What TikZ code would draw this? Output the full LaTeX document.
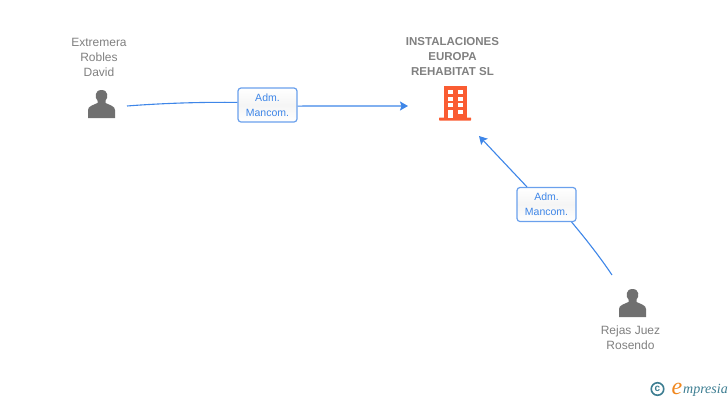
\documentclass[tikz,border=0pt]{standalone}
\usepackage{fontspec}
\setmainfont{Liberation Sans}
\newfontfamily\logofont{Liberation Serif}
\usetikzlibrary{positioning,arrows.meta}

\definecolor{linkblue}{RGB}{62,134,232}
\definecolor{boxblue}{RGB}{106,160,236}
\definecolor{labelgrey}{RGB}{128,128,128}
\definecolor{icongrey}{RGB}{112,112,112}
\definecolor{firmorange}{RGB}{250,92,50}
\definecolor{logoteal}{RGB}{60,125,145}
\definecolor{logoorange}{RGB}{240,135,30}

\tikzset{
  person/.style={text=labelgrey,font=\fontsize{12}{15}\selectfont,align=center},
  firm/.style={text=labelgrey,font=\fontsize{11.5}{15}\selectfont\bfseries,align=center},
  role/.style={draw=boxblue,line width=1.2pt,rounded corners=3pt,top color=white,bottom color=white,
    middle color=black!4,minimum width=59pt,minimum height=34pt,inner sep=0pt,text=linkblue,
    font=\fontsize{10.5}{15}\selectfont,align=center},
  link/.style={draw=linkblue,line width=1.1pt},
}

% person icon, centred on its foot line
\newcommand{\personicon}[2]{
  \fill[icongrey,shift={(#1,#2)}] (-13.5,0) -- (-13.5,-8) .. controls (-13.5,-12) and (-8,-13) .. (-4,-15)
    -- (-4,-17.5) .. controls (-7,-20) and (-7,-28) .. (0,-28)
    .. controls (7,-28) and (7,-20) .. (4,-17.5) -- (4,-15)
    .. controls (8,-13) and (13.5,-12) .. (13.5,-8) -- (13.5,0) -- cycle;
}

\begin{document}
\begin{tikzpicture}[x=1pt,y=-1pt,>={Stealth[length=8pt,width=9pt,inset=1.5pt]}]
\useasboundingbox (0,0) rectangle (728,400);

\node[person] (david) at (99,57) {Extremera\\Robles\\David};
\node[firm] (europa) at (452.5,57) {INSTALACIONES\\EUROPA\\REHABITAT SL};
\node[person] (rosendo) at (630.5,338) {Rejas Juez\\Rosendo};

\personicon{101.5}{118}
\personicon{632.5}{317}

% building
\fill[firmorange] (444,86) rectangle (466.5,118);
\fill[firmorange,rounded corners=0.5pt] (439,117.5) rectangle (471,120.5);
\foreach \wx in {447.7,457.6}{
  \foreach \wy in {90,96.7,103}{
    \fill[white] (\wx,\wy) rectangle +(5,4.2);
  }
}
\fill[white] (447.7,109.7) rectangle (452.7,117.5);
\fill[white] (457.6,109.7) rectangle (462.6,114);

\coordinate (davidend) at (127,106);
\coordinate (europaleft) at (408,106);
\coordinate (europabottom) at (479,136);
\coordinate (rosendoend) at (612,275);

\node[role] (admone) at (267.5,105) {Adm.\\Mancom.};
\node[role] (admtwo) at (546.5,204.5) {Adm.\\Mancom.};

\draw[link] (davidend) .. controls (165,103) and (205,102) .. (admone.175);
\draw[link,->] (admone.-2) .. controls (335,106) and (370,106) .. (europaleft);
\draw[link] (rosendoend) .. controls (600,257) and (585,238) .. (admtwo.-35.5);
\draw[link,->] (admtwo.138) -- (europabottom);

% logo
\node[circle,draw=logoteal,line width=1.6pt,inner sep=0pt,minimum size=12.5pt,text=logoteal,
  font=\fontsize{10}{10}\selectfont\bfseries] (copyr) at (657.5,389) {c};
\node[text=logoorange,font=\logofont\itshape\fontsize{24}{24}\selectfont,inner sep=0pt] (logoe) at (677,388.5) {e};
\node[text=logoteal,font=\logofont\itshape\fontsize{14}{14}\selectfont,inner sep=0pt,anchor=west] (logotext) at (683,390) {mpresia};
\end{tikzpicture}
\end{document}
